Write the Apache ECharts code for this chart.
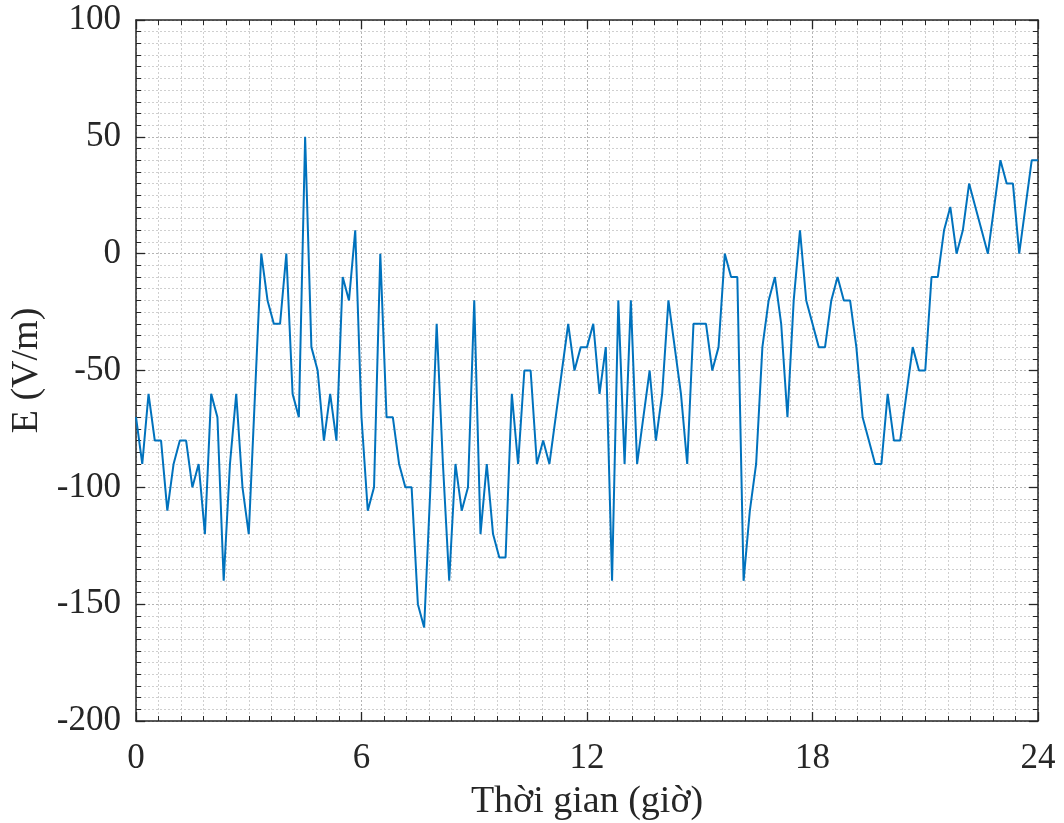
<!DOCTYPE html>
<html>
<head>
<meta charset="utf-8">
<script src="https://cdn.jsdelivr.net/npm/echarts@6/dist/echarts.min.js"></script>
<style>
  html, body { margin: 0; padding: 0; background: #fff; }
  #chart { width: 1064px; height: 823px; }
</style>
</head>
<body>
<div id="chart"></div>
<script>
// E-field readings, one every 10 minutes over 24 h (V/m)
const stepMinutes = 10;
const fieldValues = [
    -70, -90, -60, -80, -80, -110, -90, -80, -80, -100,
    -90, -120, -60, -70, -140, -90, -60, -100, -120, -60,
    0, -20, -30, -30, 0, -60, -70, 50, -40, -50,
    -80, -60, -80, -10, -20, 10, -70, -110, -100, 0,
    -70, -70, -90, -100, -100, -150, -160, -100, -30, -90,
    -140, -90, -110, -100, -20, -120, -90, -120, -130, -130,
    -60, -90, -50, -50, -90, -80, -90, -70, -50, -30,
    -50, -40, -40, -30, -60, -40, -140, -20, -90, -20,
    -90, -70, -50, -80, -60, -20, -40, -60, -90, -30,
    -30, -30, -50, -40, 0, -10, -10, -140, -110, -90,
    -40, -20, -10, -30, -70, -20, 10, -20, -30, -40,
    -40, -20, -10, -20, -20, -40, -70, -80, -90, -90,
    -60, -80, -80, -60, -40, -50, -50, -10, -10, 10,
    20, 0, 10, 30, 20, 10, 0, 20, 40, 30,
    30, 0, 20, 40, 40
];
const xTicks = [0, 6, 12, 18, 24];
const yTicks = [-200, -150, -100, -50, 0, 50, 100];

const seriesData = fieldValues.map((v, i) => [i * stepMinutes / 60, v]);

const font = 'Liberation Serif';
const ink = '#262626';

const chart = echarts.init(document.getElementById('chart'));

const boxAxis = (extra) => Object.assign({
    type: 'value',
    axisLine: {show: true, onZero: false, lineStyle: {color: ink, width: 1.5}},
    axisTick: {show: true, inside: true, length: 9, lineStyle: {color: ink, width: 1.3}},
    minorTick: {show: true, splitNumber: 10, length: 5, lineStyle: {color: ink, width: 1}},
    axisLabel: {show: false},
    splitLine: {show: false},
    minorSplitLine: {show: false}
}, extra);

chart.setOption({
    animation: false,
    grid: {left: 136, right: 26, top: 20, bottom: 102, containLabel: false, outerBoundsMode: 'none'},
    xAxis: [
        boxAxis({
            position: 'bottom',
            min: xTicks[0],
            max: xTicks[xTicks.length - 1],
            interval: 6,
            name: 'Thời gian (giờ)',
            nameLocation: 'middle',
            nameGap: 62,
            nameTextStyle: {fontFamily: font, fontSize: 38, color: ink},
            axisLabel: {show: true, fontFamily: font, fontSize: 35, color: ink, margin: 20},
            splitLine: {show: true, lineStyle: {color: '#b4b4b4', type: [2, 2], width: 1}},
            minorSplitLine: {show: true, lineStyle: {color: '#cfcfcf', type: [2, 2], width: 1}}
        }),
        boxAxis({
            position: 'top',
            min: xTicks[0],
            max: xTicks[xTicks.length - 1],
            interval: 6
        })
    ],
    yAxis: [
        boxAxis({
            position: 'left',
            min: yTicks[0],
            max: yTicks[yTicks.length - 1],
            interval: 50,
            name: 'E (V/m)',
            nameLocation: 'middle',
            nameGap: 80,
            nameTextStyle: {fontFamily: font, fontSize: 38, color: ink},
            axisLabel: {show: true, fontFamily: font, fontSize: 35, color: ink, margin: 15},
            splitLine: {show: true, lineStyle: {color: '#b4b4b4', type: [2, 2], width: 1}},
            minorSplitLine: {show: true, lineStyle: {color: '#cfcfcf', type: [2, 2], width: 1}}
        }),
        boxAxis({
            position: 'right',
            min: yTicks[0],
            max: yTicks[yTicks.length - 1],
            interval: 50
        })
    ],
    series: [{
        name: 'E',
        type: 'line',
        xAxisIndex: 0,
        yAxisIndex: 0,
        data: seriesData,
        showSymbol: false,
        lineStyle: {color: '#0072BD', width: 2},
        z: 5
    }]
});
</script>
</body>
</html>
